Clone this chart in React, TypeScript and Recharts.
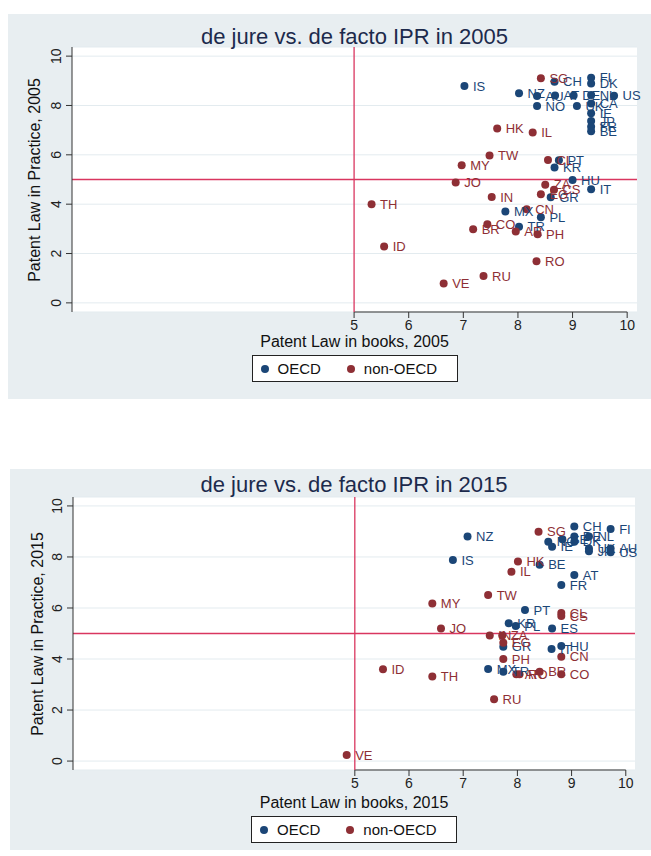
import React from 'react';
import {
  ScatterChart,
  Scatter,
  XAxis,
  YAxis,
  CartesianGrid,
  ReferenceLine,
  LabelList,
} from 'recharts';

// ---------- DATA ----------
const xTicks = [5, 6, 7, 8, 9, 10];
const yTicks = [0, 2, 4, 6, 8, 10];

// 2005 OECD
const oecd05Names = ['IS', 'CH', 'FI', 'DK', 'NZ', 'AU', 'AT', 'DE', 'NL', 'US', 'NO', 'UK', 'CA', 'IE', 'JP', 'FR', 'BE', 'PT', 'KR', 'HU', 'IT', 'GR', 'MX', 'PL', 'TR'];
const oecd05X = [7.02, 8.67, 9.34, 9.34, 8.02, 8.35, 8.68, 9.02, 9.34, 9.76, 8.35, 9.08, 9.34, 9.34, 9.34, 9.34, 9.34, 8.75, 8.67, 9.0, 9.34, 8.6, 7.77, 8.42, 8.02];
const oecd05Y = [8.79, 8.96, 9.12, 8.89, 8.5, 8.38, 8.4, 8.4, 8.42, 8.39, 7.98, 7.98, 8.08, 7.68, 7.37, 7.14, 6.96, 5.78, 5.49, 4.98, 4.6, 4.28, 3.7, 3.47, 3.09];

// 2005 non-OECD
const non05Names = ['SG', 'HK', 'IL', 'TW', 'MY', 'CL', 'JO', 'ZA', 'EG', 'CS', 'IN', 'TH', 'CN', 'CO', 'BR', 'AR', 'PH', 'ID', 'RO', 'RU', 'VE'];
const non05X = [8.42, 7.62, 8.27, 7.48, 6.97, 8.55, 6.86, 8.5, 8.42, 8.66, 7.52, 5.32, 8.16, 7.44, 7.18, 7.96, 8.36, 5.55, 8.34, 7.37, 6.64];
const non05Y = [9.1, 7.07, 6.9, 5.97, 5.58, 5.79, 4.88, 4.79, 4.4, 4.58, 4.29, 4.0, 3.79, 3.19, 2.98, 2.89, 2.78, 2.28, 1.69, 1.09, 0.78];

// 2015 OECD
const oecd15Names = ['CH', 'FI', 'NZ', 'NO', 'IE', 'SE', 'DE', 'DK', 'NL', 'UK', 'JP', 'AU', 'US', 'IS', 'BE', 'AT', 'FR', 'PT', 'KR', 'PL', 'ES', 'GR', 'IT', 'HU', 'MX', 'TR'];
const oecd15X = [9.05, 9.72, 7.08, 8.57, 8.64, 8.83, 9.05, 9.05, 9.32, 9.32, 9.32, 9.72, 9.72, 6.81, 8.41, 9.05, 8.81, 8.14, 7.84, 7.97, 8.64, 7.74, 8.63, 8.81, 7.46, 7.74];
const oecd15Y = [9.19, 9.1, 8.8, 8.6, 8.4, 8.69, 8.8, 8.6, 8.8, 8.33, 8.22, 8.33, 8.18, 7.88, 7.69, 7.29, 6.9, 5.92, 5.4, 5.29, 5.2, 4.48, 4.39, 4.51, 3.61, 3.5];

// 2015 non-OECD
const non15Names = ['SG', 'HK', 'IL', 'TW', 'MY', 'CL', 'CS', 'JO', 'IN', 'ZA', 'EG', 'PH', 'CN', 'ID', 'TH', 'AR', 'RO', 'BR', 'CO', 'RU', 'VE'];
const non15X = [8.39, 8.01, 7.89, 7.46, 6.43, 8.81, 8.81, 6.59, 7.49, 7.72, 7.74, 7.74, 8.81, 5.52, 6.43, 7.98, 8.04, 8.41, 8.81, 7.57, 4.85];
const non15Y = [8.99, 7.82, 7.42, 6.51, 6.18, 5.8, 5.69, 5.2, 4.92, 4.92, 4.64, 4.0, 4.09, 3.6, 3.31, 3.4, 3.4, 3.5, 3.4, 2.42, 0.24];

// ---------- STYLE ----------
const FONT = '"Liberation Sans", Arial, sans-serif';
const OECD_COLOR = '#1b4677';
const NON_COLOR = '#8e2f35';
const REF_COLOR = '#d9365f';
const PANEL_BG = '#e8eef1';
const AXIS_COLOR = '#333333';
const TITLE_COLOR = '#1c2a4c';

type Pt = { name: string; x: number; y: number };
const build = (n: string[], xs: number[], ys: number[]): Pt[] =>
  n.map((name, i) => ({ name, x: xs[i], y: ys[i] }));

const makeDot = (color: string) => (props: any) => {
  if (props.cx == null || props.cy == null) return <g />;
  return <circle cx={props.cx} cy={props.cy} r={4} fill={color} stroke="none" />;
};

const YTick = (props: any) => {
  const { x, y, payload } = props;
  return (
    <text
      x={x - 3}
      y={y}
      transform={`rotate(-90, ${x - 3}, ${y})`}
      textAnchor="middle"
      fontSize={14}
      fontFamily={FONT}
      fill="#222"
    >
      {payload.value}
    </text>
  );
};

type ChartProps = {
  year: string;
  oecd: Pt[];
  non: Pt[];
  left: number;
  top: number;
  width: number;
  height: number;
  plotLeft: number;
  plotTop: number;
  plotRight: number;
  plotBottom: number;
  xDomain: [number, number];
  yDomain: [number, number];
  titleY: number;
  yLabelX: number;
  xLabelY: number;
  legendY: number;
};

const IPRChart = (p: ChartProps) => {
  const marginTop = p.plotTop - p.top;
  const marginRight = p.left + p.width - p.plotRight;
  const yAxisWidth = p.plotLeft - p.left;
  const xAxisHeight = 24;
  const marginBottom = p.top + p.height - p.plotBottom - xAxisHeight;
  const plotCx = (p.plotLeft + p.plotRight) / 2;
  const plotCy = (p.plotTop + p.plotBottom) / 2;
  return (
    <>
      <div
        style={{
          position: 'absolute',
          left: p.left,
          top: p.top,
          width: p.width,
          height: p.height,
          background: PANEL_BG,
        }}
      >
        <ScatterChart
          width={p.width}
          height={p.height}
          margin={{ top: marginTop, right: marginRight, left: 0, bottom: marginBottom }}
        >
          <CartesianGrid vertical={false} stroke="#e3ebef" fill="#ffffff" />
          <XAxis
            type="number"
            dataKey="x"
            domain={p.xDomain}
            ticks={xTicks}
            allowDataOverflow
            axisLine={false}
            tickLine={{ stroke: AXIS_COLOR }}
            tickSize={6}
            tickMargin={2}
            height={xAxisHeight}
            tick={{ fontSize: 14, fontFamily: FONT, fill: '#222' }}
          />
          <YAxis
            type="number"
            dataKey="y"
            domain={p.yDomain}
            ticks={yTicks}
            allowDataOverflow
            width={yAxisWidth}
            axisLine={{ stroke: AXIS_COLOR }}
            tickLine={{ stroke: AXIS_COLOR }}
            tickSize={6}
            tickMargin={2}
            tick={<YTick />}
          />
          <ReferenceLine
            segment={[
              { x: 5, y: p.yDomain[0] },
              { x: 10, y: p.yDomain[0] },
            ]}
            stroke={AXIS_COLOR}
            strokeWidth={1.2}
            ifOverflow="visible"
          />
          <ReferenceLine x={5} stroke={REF_COLOR} strokeWidth={1.3} />
          <ReferenceLine y={5} stroke={REF_COLOR} strokeWidth={1.3} />
          <Scatter
            name="OECD"
            data={p.oecd}
            fill={OECD_COLOR}
            shape={makeDot(OECD_COLOR)}
            isAnimationActive={false}
          >
            <LabelList
              dataKey="name"
              position="right"
              offset={4}
              fill={OECD_COLOR}
              style={{ fontSize: 13, fontFamily: FONT }}
            />
          </Scatter>
          <Scatter
            name="non-OECD"
            data={p.non}
            fill={NON_COLOR}
            shape={makeDot(NON_COLOR)}
            isAnimationActive={false}
          >
            <LabelList
              dataKey="name"
              position="right"
              offset={4}
              fill={NON_COLOR}
              style={{ fontSize: 13, fontFamily: FONT }}
            />
          </Scatter>
        </ScatterChart>
      </div>
      {/* title */}
      <div
        style={{
          position: 'absolute',
          left: plotCx - 250,
          width: 500,
          top: p.titleY - 13,
          height: 26,
          lineHeight: '26px',
          textAlign: 'center',
          fontFamily: FONT,
          fontSize: 22,
          color: TITLE_COLOR,
          whiteSpace: 'nowrap',
        }}
      >
        {`de jure vs. de facto IPR in ${p.year}`}
      </div>
      {/* y label */}
      <div
        style={{
          position: 'absolute',
          left: p.yLabelX - 150,
          top: plotCy - 10,
          width: 300,
          height: 20,
          lineHeight: '20px',
          textAlign: 'center',
          fontFamily: FONT,
          fontSize: 16,
          color: '#111',
          transform: 'rotate(-90deg)',
          whiteSpace: 'nowrap',
        }}
      >
        {`Patent Law in Practice, ${p.year}`}
      </div>
      {/* x label */}
      <div
        style={{
          position: 'absolute',
          left: plotCx - 150,
          top: p.xLabelY - 10,
          width: 300,
          height: 20,
          lineHeight: '20px',
          textAlign: 'center',
          fontFamily: FONT,
          fontSize: 16,
          color: '#111',
          whiteSpace: 'nowrap',
        }}
      >
        {`Patent Law in books, ${p.year}`}
      </div>
      {/* legend */}
      <div
        style={{
          position: 'absolute',
          left: plotCx - 103,
          top: p.legendY - 13,
          width: 204,
          height: 25,
          border: '1px solid #222',
          background: '#fff',
          display: 'flex',
          alignItems: 'center',
          fontFamily: FONT,
          fontSize: 15,
          color: '#111',
          boxSizing: 'content-box',
        }}
      >
        <span
          style={{
            display: 'inline-block',
            width: 8,
            height: 8,
            borderRadius: 4,
            background: OECD_COLOR,
            marginLeft: 8,
            marginRight: 9,
          }}
        />
        <span>OECD</span>
        <span
          style={{
            display: 'inline-block',
            width: 8,
            height: 8,
            borderRadius: 4,
            background: NON_COLOR,
            marginLeft: 26,
            marginRight: 9,
          }}
        />
        <span>non-OECD</span>
      </div>
    </>
  );
};

export default function App() {
  const oecd05 = build(oecd05Names, oecd05X, oecd05Y);
  const non05 = build(non05Names, non05X, non05Y);
  const oecd15 = build(oecd15Names, oecd15X, oecd15Y);
  const non15 = build(non15Names, non15X, non15Y);
  return (
    <div style={{ position: 'absolute', left: 0, top: 0, width: 651, height: 856, background: '#fff' }}>
      <IPRChart
        year="2005"
        oecd={oecd05}
        non={non05}
        left={8}
        top={14}
        width={643}
        height={385}
        plotLeft={72}
        plotTop={47}
        plotRight={637}
        plotBottom={312}
        xDomain={[-0.165, 10.18]}
        yDomain={[-0.37, 10.37]}
        titleY={37}
        yLabelX={35}
        xLabelY={342}
        legendY={368}
      />
      <IPRChart
        year="2015"
        oecd={oecd15}
        non={non15}
        left={10}
        top={469}
        width={641}
        height={381}
        plotLeft={73}
        plotTop={497}
        plotRight={635}
        plotBottom={770}
        xDomain={[-0.2, 10.17]}
        yDomain={[-0.35, 10.35]}
        titleY={485}
        yLabelX={38}
        xLabelY={803}
        legendY={829}
      />
    </div>
  );
}
